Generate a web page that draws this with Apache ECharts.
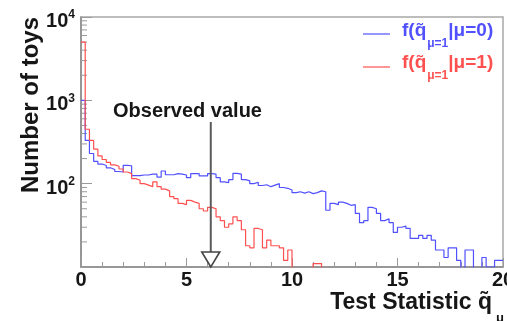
<!DOCTYPE html>
<html>
<head>
<meta charset="utf-8">
<script src="https://cdn.jsdelivr.net/npm/echarts@6.0.0/dist/echarts.min.js"></script>
<style>
  html, body { margin: 0; padding: 0; background: #ffffff; }
  #chart { width: 507px; height: 321px; }
</style>
</head>
<body>
<div id="chart"></div>
<script>
// Histogram binning of the test statistic
const BIN_WIDTH = 0.2;
const X_MIN = 0;
const X_MAX = 20;
const Y_MIN = 10;
const Y_MAX = 10000;

// Axis tick labels
const xTickValues = [0, 5, 10, 15, 20];
const yDecadeTicks = [100, 1000, 10000];

// Toy counts per bin, f(q~ | mu = 0)
const countsMuZero = [
  1000, 330, 230, 185, 172, 165, 155, 148, 140, 138,
  166, 164, 125, 125, 127, 127, 130, 130, 120, 142,
  128, 128, 132, 130, 127, 118, 132, 132, 124, 124,
  132, 130, 118, 105, 103, 112, 133, 130, 112, 108,
  100, 104, 95, 97, 92, 96, 100, 90, 88, 84,
  78, 80, 77, 80, 76, 78, 82, 80, 48, 58,
  56, 60, 58, 55, 56, 44, 34, 36, 52, 50,
  44, 36, 38, 34, 26, 30, 31, 29, 22, 22,
  24, 22, 24, 21, 16, 16, 13, 17, 17, 12,
  9, 16, 16, 9, 9, 13, 10, 10, 12, 12
];

// Toy counts per bin, f(q~ | mu = 1)
const countsMuOne = [
  5000, 450, 330, 260, 215, 195, 180, 168, 162, 150,
  138, 132, 115, 110, 100, 96, 92, 105, 92, 86,
  82, 70, 66, 58, 56, 63, 60, 58, 50, 47,
  52, 50, 40, 36, 30, 33, 40, 36, 28, 18,
  17, 29, 28, 17, 21, 18, 18, 17, 12, 16,
  0, 0, 0, 0, 0, 11, 11, 0, 0, 0,
  0, 0, 0, 0, 0, 0, 0, 0, 0, 0,
  0, 0, 0, 0, 0, 0, 0, 0, 0, 0,
  0, 0, 0, 0, 0, 0, 0, 0, 0, 0,
  0, 0, 0, 0, 0, 0, 0, 0, 0, 0
];

// Observed value of the test statistic and top of its marker line
const OBSERVED = 6.15;
const OBSERVED_TOP = 550;

const BLUE = '#5050ff';
const RED = '#ff5050';
const AXIS_COLOR = '#8a8a8a';
const TICK_COLOR = '#9a9a9a';
const TEXT_COLOR = '#161616';
const FONT = '"Liberation Sans", Arial, Helvetica, sans-serif';

// Empty bins are sent below the axis floor so the outline drops onto the frame
const EMPTY_LEVEL = 1;

function stepOutline(counts) {
  const pts = [];
  counts.forEach(function (c, i) {
    pts.push([X_MIN + i * BIN_WIDTH, Math.max(c, EMPTY_LEVEL)]);
  });
  const last = counts[counts.length - 1];
  pts.push([X_MIN + counts.length * BIN_WIDTH, Math.max(last, EMPTY_LEVEL)]);
  return pts;
}

// Minor ticks of the log axis at 2..9 times each decade
const yMinorTicks = [];
for (let d = Y_MIN; d < Y_MAX; d *= 10) {
  for (let k = 2; k <= 9; k++) yMinorTicks.push([X_MIN, k * d]);
}

const chart = echarts.init(document.getElementById('chart'), null, { renderer: 'canvas' });

chart.setOption({
  animation: false,
  backgroundColor: '#ffffff',
  grid: {
    left: 81, right: 4, top: 17, bottom: 54,
    containLabel: false,
    outerBoundsMode: 'none',
    show: true, borderColor: '#a8a8a8', borderWidth: 1.5, backgroundColor: 'transparent'
  },
  xAxis: {
    type: 'value',
    min: X_MIN, max: X_MAX, interval: 5,
    axisLine: { show: true, lineStyle: { color: AXIS_COLOR, width: 1.5 } },
    axisTick: { show: true, inside: true, length: 9, lineStyle: { color: TICK_COLOR } },
    minorTick: { show: true, splitNumber: 5, length: 5, lineStyle: { color: TICK_COLOR } },
    splitLine: { show: false },
    axisLabel: {
      margin: 3,
      color: TEXT_COLOR, fontSize: 20, fontWeight: 'bold', fontFamily: FONT,
      formatter: function (v) { return xTickValues.indexOf(v) >= 0 ? String(v) : ''; }
    }
  },
  yAxis: {
    type: 'log',
    logBase: 10,
    min: Y_MIN, max: Y_MAX,
    axisLine: { show: true, lineStyle: { color: AXIS_COLOR, width: 1.5 } },
    axisTick: { show: true, inside: true, length: 11, lineStyle: { color: TICK_COLOR } },
    splitLine: { show: false },
    axisLabel: {
      margin: 6,
      formatter: function (v) {
        if (yDecadeTicks.indexOf(Math.round(v)) < 0) return '';
        return '{b|10}{e|' + Math.round(Math.log10(v)) + '}';
      },
      rich: {
        b: { color: TEXT_COLOR, fontSize: 20, fontWeight: 'bold', fontFamily: FONT, padding: [9, 0, 0, 0] },
        e: { color: TEXT_COLOR, fontSize: 12, fontWeight: 'bold', fontFamily: FONT, padding: [0, 0, 4, 0] }
      }
    }
  },
  series: [
    {
      name: 'muZero',
      type: 'line',
      step: 'end',
      data: stepOutline(countsMuZero),
      showSymbol: false,
      lineStyle: { color: BLUE, width: 1.2 },
      clip: true,
      z: 3
    },
    {
      name: 'muOne',
      type: 'line',
      step: 'end',
      data: stepOutline(countsMuOne),
      showSymbol: false,
      lineStyle: { color: RED, width: 1.2 },
      clip: true,
      z: 3
    },
    {
      name: 'logMinorTicks',
      type: 'custom',
      silent: true,
      data: yMinorTicks,
      encode: { x: 0, y: 1 },
      renderItem: function (params, api) {
        const p = api.coord([api.value(0), api.value(1)]);
        return {
          type: 'line',
          shape: { x1: p[0], y1: p[1], x2: p[0] + 6, y2: p[1] },
          style: { stroke: TICK_COLOR, lineWidth: 1 }
        };
      },
      z: 2
    },
    {
      name: 'observed',
      type: 'custom',
      silent: true,
      data: [[OBSERVED, OBSERVED_TOP]],
      encode: { x: 0, y: 1 },
      renderItem: function (params, api) {
        const top = api.coord([api.value(0), api.value(1)]);
        const tip = api.coord([api.value(0), Y_MIN]);
        const h = 15, w = 9;
        return {
          type: 'group',
          children: [
            {
              type: 'line',
              shape: { x1: top[0], y1: top[1], x2: tip[0], y2: tip[1] - h },
              style: { stroke: '#5a5a5a', lineWidth: 2 }
            },
            {
              type: 'polygon',
              shape: { points: [[tip[0] - w, tip[1] - h], [tip[0] + w, tip[1] - h], [tip[0], tip[1]]] },
              style: { fill: '#ffffff', stroke: '#444444', lineWidth: 1.6 }
            }
          ]
        };
      },
      z: 5
    }
  ],
  graphic: [
    {
      type: 'text', left: 113, top: 101, z: 10,
      style: { text: 'Observed value', fill: TEXT_COLOR, font: 'bold 20px ' + FONT }
    },
    {
      type: 'text', x: 31, y: 17, rotation: Math.PI / 2, z: 10,
      style: {
        text: 'Number of toys', fill: TEXT_COLOR, font: 'bold 24px ' + FONT,
        align: 'right', verticalAlign: 'middle'
      }
    },
    {
      type: 'text', x: 504, y: 303, z: 10,
      style: {
        text: '{m|Test Statistic q\u0303}{s|\u03bc}',
        align: 'right', verticalAlign: 'middle',
        rich: {
          m: { fill: TEXT_COLOR, fontSize: 23, fontWeight: 'bold', fontFamily: FONT },
          s: { fill: TEXT_COLOR, fontSize: 13, fontWeight: 'bold', fontFamily: FONT, padding: [30, 0, 0, 4] }
        }
      }
    },
    {
      type: 'line', z: 10,
      shape: { x1: 363, y1: 34, x2: 390, y2: 34 },
      style: { stroke: BLUE, lineWidth: 1.2 }
    },
    {
      type: 'text', x: 402, y: 31, z: 10,
      style: {
        text: '{m|f(q\u0303}{s|\u03bc=1}{m||\u03bc=0)}',
        align: 'left', verticalAlign: 'middle',
        rich: {
          m: { fill: BLUE, fontSize: 19, fontWeight: 'bold', fontFamily: FONT },
          s: { fill: BLUE, fontSize: 12, fontWeight: 'bold', fontFamily: FONT, padding: [26, 0, 0, 1] }
        }
      }
    },
    {
      type: 'line', z: 10,
      shape: { x1: 363, y1: 67, x2: 390, y2: 67 },
      style: { stroke: RED, lineWidth: 1.2 }
    },
    {
      type: 'text', x: 402, y: 63, z: 10,
      style: {
        text: '{m|f(q\u0303}{s|\u03bc=1}{m||\u03bc=1)}',
        align: 'left', verticalAlign: 'middle',
        rich: {
          m: { fill: RED, fontSize: 19, fontWeight: 'bold', fontFamily: FONT },
          s: { fill: RED, fontSize: 12, fontWeight: 'bold', fontFamily: FONT, padding: [26, 0, 0, 1] }
        }
      }
    }
  ]
});
</script>
</body>
</html>
